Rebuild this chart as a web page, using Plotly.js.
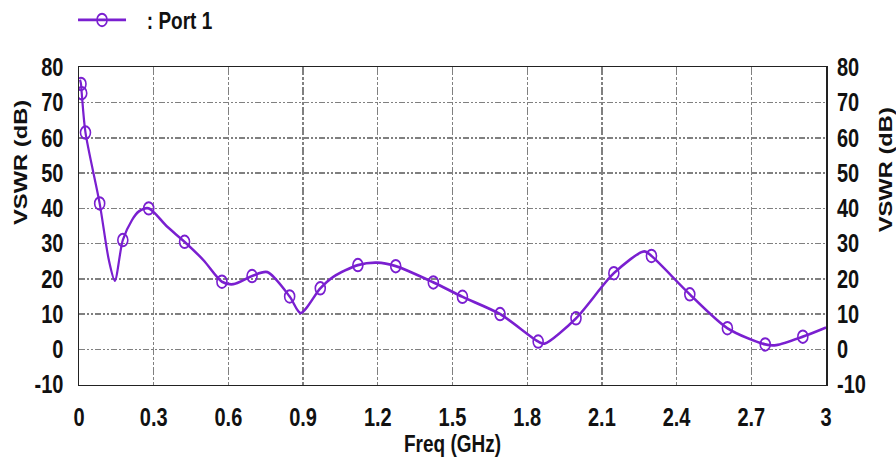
<!DOCTYPE html>
<html>
<head>
<meta charset="utf-8">
<script src="https://cdn.plot.ly/plotly-3.0.1.min.js"></script>
<style>
  html, body { margin: 0; padding: 0; background: #fff; overflow: hidden; }
  #wrap { width: 896px; height: 457px; overflow: hidden; }
  #chart { width: 896px; height: 366px; transform: scaleY(1.2486); transform-origin: 0 0; }
</style>
</head>
<body>
<div id="wrap"><div id="chart"></div></div>
<script>
// Curve samples (GHz, dB)
const curveFreq = [0.004, 0.008, 0.011, 0.026, 0.083, 0.12, 0.144, 0.176, 0.213, 0.24, 0.28, 0.354, 0.424, 0.5, 0.574, 0.62, 0.695, 0.757, 0.846, 0.89, 0.969, 1.022, 1.12, 1.197, 1.272, 1.423, 1.54, 1.691, 1.844, 1.87, 1.996, 2.148, 2.27, 2.299, 2.453, 2.604, 2.756, 2.80, 2.907, 3.0];
const curveVswr = [76.5, 75.3, 72.7, 61.5, 41.4, 25.3, 19.5, 31.0, 36.7, 39.1, 40.0, 34.8, 30.5, 25.3, 19.2, 18.5, 20.8, 21.9, 15.0, 10.3, 17.3, 20.6, 23.9, 24.6, 23.6, 19.0, 14.9, 10.0, 2.2, 1.6, 8.8, 21.6, 27.8, 26.5, 15.6, 6.0, 1.4, 1.2, 3.6, 6.2];

// Marker samples
const markerFreq = [0.008, 0.011, 0.026, 0.083, 0.176, 0.28, 0.424, 0.574, 0.695, 0.846, 0.969, 1.12, 1.272, 1.423, 1.54, 1.691, 1.844, 1.996, 2.148, 2.299, 2.453, 2.604, 2.756, 2.907];
const markerVswr = [75.3, 72.7, 61.5, 41.4, 31.0, 40.0, 30.5, 19.2, 20.8, 15.0, 17.3, 23.9, 23.6, 19.0, 14.9, 10.0, 2.2, 8.8, 21.6, 26.5, 15.6, 6.0, 1.4, 3.6];

const xTickVals = [0, 0.3, 0.6, 0.9, 1.2, 1.5, 1.8, 2.1, 2.4, 2.7, 3];
const xTickText = ['0', '0.3', '0.6', '0.9', '1.2', '1.5', '1.8', '2.1', '2.4', '2.7', '3'];
const yTickVals = [-10, 0, 10, 20, 30, 40, 50, 60, 70, 80];
const yTickText = ['-10', '0', '10', '20', '30', '40', '50', '60', '70', '80'];
const seriesName = '\u00a0\u00a0\u00a0: Port 1';

const purple = '#7a1fd0';
const fontFam = 'Liberation Sans, Arial, sans-serif';

const traces = [
  {
    x: curveFreq, y: curveVswr, mode: 'lines', type: 'scatter', yaxis: 'y',
    line: {color: purple, width: 2.2, shape: 'spline', smoothing: 0.8},
    showlegend: false, hoverinfo: 'skip'
  },
  {
    x: markerFreq, y: markerVswr, mode: 'markers', type: 'scatter', yaxis: 'y2',
    marker: {symbol: 'circle-open', size: 10, color: purple, line: {width: 1.6, color: purple}},
    showlegend: false
  },
  {
    x: [null], y: [null], mode: 'lines+markers', type: 'scatter', name: seriesName,
    line: {color: purple, width: 2.2},
    marker: {symbol: 'circle-open', size: 10, color: purple, line: {width: 1.6, color: purple}}
  }
];

const gridStyle = {gridcolor: '#808080', gridwidth: 1.3, griddash: '6px,2px,2px,2px,2px,2px'};

const layout = {
  width: 896, height: 366,
  margin: {l: 79, r: 70, t: 54, b: 58},
  paper_bgcolor: '#fff', plot_bgcolor: '#fff',
  font: {family: fontFam, size: 19, color: '#111', weight: 'bold'},
  showlegend: true,
  legend: {
    x: 0.0815, y: 0.956, xref: 'container', yref: 'container', xanchor: 'left', yanchor: 'middle',
    orientation: 'h', itemwidth: 48, bgcolor: 'rgba(0,0,0,0)',
    font: {family: fontFam, size: 19, color: '#111', weight: 'bold'}
  },
  xaxis: Object.assign({
    range: [0, 3], tickmode: 'array', tickvals: xTickVals, ticktext: xTickText,
    showline: true, mirror: true, linecolor: '#222', linewidth: 1.5,
    ticks: '', ticklabelstandoff: 8, zeroline: false,
    tickfont: {family: fontFam, size: 20, weight: 'bold', color: '#111'},
    title: {text: 'Freq (GHz)', standoff: 4, font: {family: fontFam, size: 19, weight: 'bold', color: '#111'}}
  }, gridStyle),
  yaxis: Object.assign({
    range: [-10, 80], tickmode: 'array', tickvals: yTickVals, ticktext: yTickText,
    showline: true, mirror: true, linecolor: '#222', linewidth: 1.5,
    ticks: '', ticklabelstandoff: 10, zeroline: false,
    tickfont: {family: fontFam, size: 20, weight: 'bold', color: '#111'}
  }, gridStyle),
  yaxis2: {
    range: [-10, 80], tickmode: 'array', tickvals: yTickVals, ticktext: yTickText,
    overlaying: 'y', side: 'right', anchor: 'x', showgrid: false, zeroline: false,
    showline: false, ticks: '', ticklabelstandoff: 10,
    tickfont: {family: fontFam, size: 20, weight: 'bold', color: '#111'}
  },
  annotations: [
    {text: 'VSWR (dB)', xref: 'paper', yref: 'paper', x: -0.079, y: 0.70, textangle: -90,
     showarrow: false, xanchor: 'center', yanchor: 'middle',
     font: {family: fontFam, size: 19, weight: 'bold', color: '#111'}},
    {text: 'VSWR (dB)', xref: 'paper', yref: 'paper', x: 1.079, y: 0.677, textangle: -90,
     showarrow: false, xanchor: 'center', yanchor: 'middle',
     font: {family: fontFam, size: 19, weight: 'bold', color: '#111'}}
  ]
};

Plotly.newPlot('chart', traces, layout, {staticPlot: true, displayModeBar: false});
</script>
</body>
</html>
